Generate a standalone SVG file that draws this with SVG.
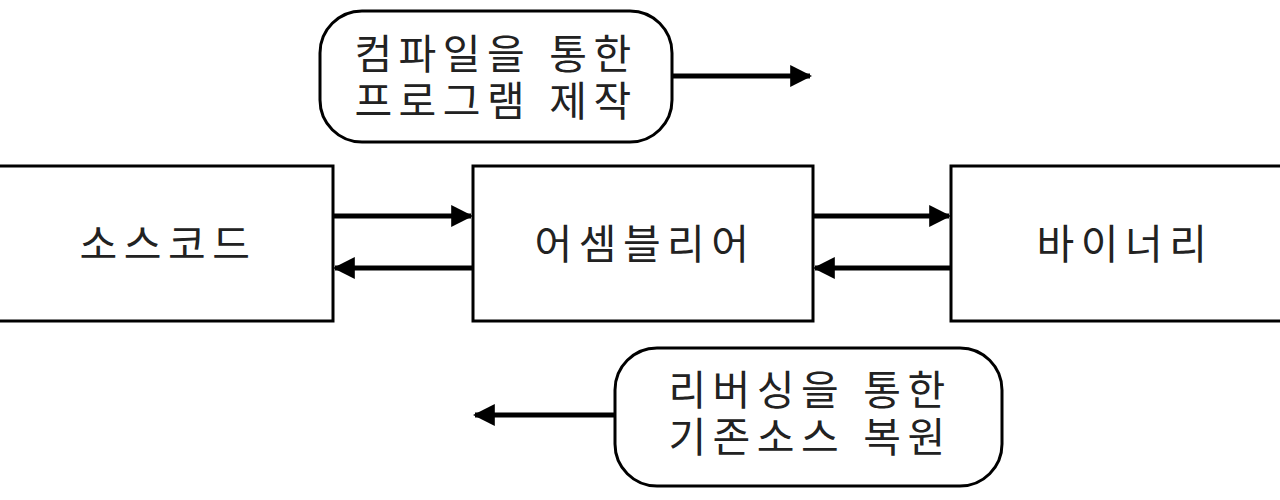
<svg xmlns="http://www.w3.org/2000/svg" width="1280" height="500" viewBox="0 0 1280 500">
<defs>
<style>
.box{fill:#fff;stroke:#000;stroke-width:3}
.t{font-family:"Liberation Sans","Noto Sans CJK KR",sans-serif;font-size:41px;fill:#222;text-anchor:middle;letter-spacing:6.5px}
.c{stroke:#000;stroke-width:5;fill:none;marker-end:url(#ah)}
</style>
<marker id="ah" viewBox="0 0 10 10" refX="9" refY="5" markerWidth="4.4" markerHeight="4.4" orient="auto" markerUnits="strokeWidth">
<path d="M0,0 L10,5 L0,10 z" fill="#000"/>
</marker>
</defs>
<rect width="1280" height="500" fill="#fff"/>
<g id="source">
<rect class="box" x="-3" y="166" width="336" height="155"/>
<text class="t" x="168" y="259">소스코드</text>
</g>
<g id="assembly">
<rect class="box" x="473" y="166" width="340" height="155"/>
<text class="t" x="645" y="259">어셈블리어</text>
</g>
<g id="binary">
<rect class="box" x="951" y="166" width="335" height="155"/>
<text class="t" x="1125" y="259">바이너리</text>
</g>
<g id="compile-note">
<rect class="box" x="320" y="11" width="352" height="131" rx="42" ry="42"/>
<text class="t"><tspan x="496" y="69">컴파일을 통한</tspan><tspan x="496" y="116">프로그램 제작</tspan></text>
</g>
<g id="reverse-note">
<rect class="box" x="615" y="348" width="387" height="138" rx="42" ry="42"/>
<text class="t"><tspan x="810" y="405">리버싱을 통한</tspan><tspan x="810" y="452">기존소스 복원</tspan></text>
</g>
<g id="connectors">
<line class="c" x1="333" y1="216" x2="471" y2="216"/>
<line class="c" x1="473" y1="268" x2="335" y2="268"/>
<line class="c" x1="813" y1="216" x2="949" y2="216"/>
<line class="c" x1="951" y1="268" x2="815" y2="268"/>
<line class="c" x1="672" y1="76" x2="810" y2="76"/>
<line class="c" x1="615" y1="415" x2="475" y2="415"/>
</g>
</svg>
